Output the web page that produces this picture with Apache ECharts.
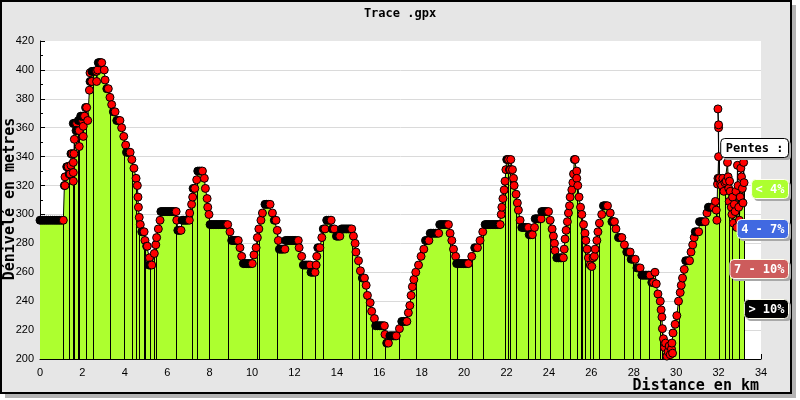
<!DOCTYPE html>
<html><head><meta charset="utf-8">
<script src="https://cdn.jsdelivr.net/npm/echarts@6/dist/echarts.min.js"></script>
<style>html,body{margin:0;padding:0;background:#fff}#c{width:800px;height:400px}</style>
</head><body><div id="c"></div>
<script>
const titleText = 'Trace .gpx';
const yAxisTitle = 'Dénivelé en metres';
const xAxisTitle = 'Distance en km';
const xMin = 0, xMax = 34, xStep = 2;
const yMin = 200, yMax = 420, yStep = 20;
const legendTitle = 'Pentes :';
const slopeLabels = ['< 4%', '4 - 7%', '7 - 10%', '> 10%'];
const slopeColors = ['#adff2f', '#4169e1', '#cd5c5c', '#000000'];

// [distance km, elevation m] in GPS trace order
const profilePoints = [
[0,296],[0.1,296],[0.2,296],[0.3,296],[0.4,296],[0.5,296],[0.6,296],[0.7,296],[0.8,296],[0.9,296],[1.0,296],[1.1,296],
[1.15,320],[1.18,320],[1.18,326],[1.26,333],[1.30,333],[1.33,333],[1.38,328],[1.42,328],[1.46,334],[1.46,342],[1.52,342],
[1.57,336],[1.57,329],[1.57,323],[1.60,342],[1.62,352],[1.57,363],[1.63,363],[1.68,363],[1.73,363],[1.70,358],[1.77,358],
[1.85,358],[1.85,347],[1.81,365],[1.88,365],[1.95,365],[2.01,365],[1.92,368],[2.0,368],[2.06,368],[2.12,368],[2.04,361],
[2.04,354],[2.10,368],[2.15,374],[2.20,374],[2.25,365],[2.33,386],[2.36,392],[2.40,392],[2.44,392],[2.36,398],[2.45,399],
[2.52,399],[2.60,399],[2.67,399],[2.67,392],[2.72,400],[2.75,405],[2.80,405],[2.86,405],[2.91,405],[3.03,400],[3.07,393],
[3.15,387],[3.22,387],[3.30,381],[3.38,376],[3.46,371],[3.54,371],[3.62,365],[3.70,365],[3.77,365],[3.85,360],[3.95,354],
[4.04,348],[4.08,343],[4.15,343],[4.20,343],[4.25,343],[4.33,338],[4.43,332],[4.53,325],[4.59,320],[4.62,312],[4.64,305],
[4.68,298],[4.73,293],[4.80,288],[4.85,288],[4.91,288],[4.95,282],[5.03,278],[5.06,278],[5.16,270],[5.14,265],[5.20,265],
[5.27,265],[5.39,273],[5.46,279],[5.50,284],[5.58,290],[5.66,296],[5.70,302],[5.78,302],[5.86,302],[5.94,302],[6.02,302],
[6.10,302],[6.18,302],[6.26,302],[6.34,302],[6.42,302],[6.45,296],[6.50,289],[6.58,289],[6.65,289],[6.70,296],[6.78,296],
[6.86,296],[6.94,296],[7.04,296],[7.06,301],[7.15,307],[7.20,312],[7.22,318],[7.30,318],[7.39,324],[7.44,330],[7.52,330],
[7.60,330],[7.66,330],[7.75,325],[7.80,318],[7.88,311],[7.91,305],[7.97,300],[8.02,293],[8.10,293],[8.18,293],[8.26,293],
[8.34,293],[8.42,293],[8.50,293],[8.58,293],[8.66,293],[8.74,293],[8.85,293],[8.96,288],[9.04,282],[9.12,282],[9.20,282],
[9.28,282],[9.35,282],[9.43,277],[9.51,271],[9.59,266],[9.67,266],[9.75,266],[9.83,266],[9.92,266],[10.01,266],[10.09,272],
[10.19,277],[10.25,284],[10.32,290],[10.42,296],[10.49,301],[10.61,307],[10.68,307],[10.76,307],[10.85,307],[10.96,301],
[11.05,296],[11.13,296],[11.19,289],[11.24,282],[11.29,276],[11.37,276],[11.45,276],[11.55,276],[11.58,282],[11.66,282],
[11.74,282],[11.82,282],[11.90,282],[11.98,282],[12.06,282],[12.18,282],[12.22,277],[12.34,271],[12.42,265],[12.50,265],
[12.58,265],[12.66,265],[12.74,265],[12.78,260],[12.87,260],[12.97,260],[13.02,265],[13.05,271],[13.10,277],[13.20,277],
[13.29,284],[13.36,290],[13.44,290],[13.52,296],[13.60,296],[13.68,296],[13.73,296],[13.78,290],[13.88,290],[13.98,285],
[14.06,285],[14.14,285],[14.22,290],[14.30,290],[14.38,290],[14.46,290],[14.54,290],[14.62,290],[14.70,290],[14.78,285],
[14.86,280],[14.90,274],[15.02,268],[15.11,261],[15.20,256],[15.30,256],[15.38,251],[15.44,244],[15.57,239],[15.64,233],
[15.77,228],[15.83,223],[15.92,223],[16.0,223],[16.08,223],[16.16,223],[16.24,223],[16.27,217],[16.35,211],[16.43,211],
[16.50,216],[16.58,216],[16.66,216],[16.74,216],[16.80,216],[16.95,221],[17.06,226],[17.14,226],[17.22,226],[17.30,226],
[17.37,232],[17.44,237],[17.50,244],[17.56,250],[17.63,255],[17.72,260],[17.85,265],[17.97,271],[18.10,276],[18.18,282],
[18.26,282],[18.34,282],[18.40,287],[18.48,287],[18.56,287],[18.64,287],[18.72,287],[18.80,287],[18.85,293],[18.95,293],
[19.05,293],[19.15,293],[19.26,293],[19.34,287],[19.42,282],[19.50,276],[19.60,271],[19.65,266],[19.73,266],[19.81,266],
[19.89,266],[19.97,266],[20.05,266],[20.13,266],[20.20,266],[20.36,271],[20.50,277],[20.63,277],[20.75,282],[20.88,288],
[20.99,293],[21.08,293],[21.16,293],[21.24,293],[21.32,293],[21.40,293],[21.48,293],[21.56,293],[21.64,293],[21.70,293],
[21.75,300],[21.78,305],[21.83,311],[21.89,317],[21.93,323],[21.97,331],[22.01,338],[22.06,338],[22.10,338],[22.14,331],
[22.18,331],[22.20,338],[22.28,331],[22.33,325],[22.36,320],[22.45,314],[22.51,308],[22.56,303],[22.64,296],[22.72,291],
[22.80,291],[22.88,291],[22.96,291],[23.03,291],[23.07,286],[23.14,286],[23.22,286],[23.32,291],[23.35,297],[23.42,297],
[23.50,297],[23.57,297],[23.63,297],[23.66,302],[23.74,302],[23.82,302],[23.90,302],[23.98,302],[24.06,296],[24.15,290],
[24.21,285],[24.26,280],[24.29,275],[24.37,270],[24.45,270],[24.53,270],[24.60,270],[24.68,270],[24.72,276],[24.76,283],
[24.81,289],[24.87,295],[24.92,301],[24.97,306],[25.00,312],[25.08,317],[25.13,322],[25.16,328],[25.20,338],[25.24,338],
[25.31,330],[25.31,325],[25.36,320],[25.42,312],[25.49,305],[25.55,300],[25.63,293],[25.70,287],[25.74,282],[25.80,276],
[25.86,270],[25.95,265],[26.02,264],[26.08,270],[26.14,271],[26.18,276],[26.26,282],[26.31,288],[26.38,294],[26.49,300],
[26.57,306],[26.63,306],[26.70,306],[26.76,306],[26.89,301],[26.97,295],[27.03,295],[27.09,295],[27.16,290],[27.28,284],
[27.36,284],[27.44,284],[27.56,279],[27.67,274],[27.75,274],[27.83,274],[27.88,269],[27.96,269],[28.07,269],[28.15,263],
[28.22,263],[28.30,263],[28.38,258],[28.46,258],[28.54,258],[28.62,258],[28.70,258],[28.77,258],[28.85,253],[28.93,253],
[29.00,260],[29.06,252],[29.14,245],[29.25,240],[29.29,234],[29.33,229],[29.35,221],[29.40,214],[29.45,208],[29.50,211],
[29.56,202],[29.62,205],[29.67,209],[29.72,203],[29.78,207],[29.83,204],[29.80,211],[29.85,218],[29.95,224],[30.03,230],
[30.11,240],[30.19,246],[30.24,251],[30.30,256],[30.38,262],[30.45,268],[30.55,268],[30.63,268],[30.70,274],[30.78,279],
[30.85,284],[30.90,288],[30.98,288],[31.06,288],[31.10,295],[31.18,295],[31.26,295],[31.37,295],[31.45,301],[31.52,305],
[31.60,305],[31.68,305],[31.76,305],[31.85,309],[31.89,303],[31.92,296],[31.95,321],[31.97,325],[32.00,340],[32.00,360],
[32.00,362],[31.97,373],[32.02,325],[32.05,325],[32.10,321],[32.15,320],[32.20,325],[32.25,316],[32.30,322],[32.36,323],
[32.42,336],[32.45,326],[32.48,318],[32.50,309],[32.52,323],[32.55,316],[32.60,305],[32.63,300],[32.66,312],[32.70,294],
[32.74,307],[32.78,302],[32.82,316],[32.86,291],[32.89,334],[32.92,320],[32.95,305],[32.98,296],[33.02,312],[33.05,332],
[33.08,326],[33.12,318],[33.15,308],[33.18,336],[33.20,322]
];

// distances (km) where a vertical separator drops from the profile to the axis
const dropLineKm = [1.1,1.38,1.57,1.62,1.78,1.85,2.15,2.5,2.55,3.3,3.96,4.33,4.53,4.68,4.91,4.99,5.19,5.38,5.46,6.42,7.11,7.36,
7.94,8.88,10.22,10.3,11.2,12.34,12.97,13.33,14.7,15.01,15.41,15.69,16.3,16.95,17.74,19.31,19.68,20.36,20.88,21.93,22.04,22.17,
22.41,23.03,23.35,23.58,24.1,24.68,25.03,25.31,25.47,25.55,25.71,25.91,26.1,26.38,26.89,27.51,27.99,28.33,28.69,29.25,29.35,
30.11,31.32,32.0,32.31,32.47,32.63,32.94,33.2];

function nearestPoint(km){
  let best = profilePoints[0], bd = Infinity;
  for (const p of profilePoints){ const d = Math.abs(p[0]-km); if (d < bd){ bd = d; best = p; } }
  return best;
}
const dropData = dropLineKm.map(nearestPoint);

const markerData = profilePoints.map((p, i) => {
  const n = profilePoints[i+1];
  const flatRun = n && n[1] === p[1];
  return flatRun ? {value: p, itemStyle: {color: '#000'}} : {value: p};
});

const mono = '"DejaVu Sans Mono", monospace';
const measure = (() => { const c = document.createElement('canvas').getContext('2d'); c.font = 'bold 12px ' + mono; return t => c.measureText(t).width; })();

const graphics = [
  {type:'rect', z:-100, shape:{x:5, y:5, width:791, height:393}, style:{fill:'#b4b4b4'}},
  {type:'rect', z:-99, shape:{x:1, y:1, width:790, height:392}, style:{fill:'#e6e6e6', stroke:'#000', lineWidth:2}},
  {type:'text', z:100, x:400, y:14, style:{text:titleText, font:'bold 12px ' + mono, fill:'#000', align:'center', verticalAlign:'middle'}},
  {type:'text', z:100, x:10, y:199, rotation:Math.PI/2, style:{text:yAxisTitle, font:'bold 15px ' + mono, fill:'#000', align:'center', verticalAlign:'middle'}},
  {type:'text', z:100, x:759, y:386, style:{text:xAxisTitle, font:'bold 15px ' + mono, fill:'#000', align:'right', verticalAlign:'middle'}}
];
// legend: title box and slope classes
(function(){
  const w = measure(legendTitle) + 10, right = 788, top = 138, h = 19;
  graphics.push({type:'rect', z:100, shape:{x:right-w+3, y:top+3, width:w, height:h, r:4}, style:{fill:'#a8a8a8'}});
  graphics.push({type:'rect', z:101, shape:{x:right-w+0.5, y:top+0.5, width:w, height:h, r:4}, style:{fill:'#fff', stroke:'#000', lineWidth:1}});
  graphics.push({type:'text', z:102, x:right-w/2+0.5, y:top+h/2+1, style:{text:legendTitle, font:'bold 12px ' + mono, fill:'#000', align:'center', verticalAlign:'middle'}});
  slopeLabels.forEach((lab, i) => {
    const bw = measure(lab) + 8, bt = 179 + 40*i;
    graphics.push({type:'rect', z:100, shape:{x:right-bw+3, y:bt+3, width:bw, height:h, r:4}, style:{fill:'#a8a8a8'}});
    graphics.push({type:'rect', z:101, shape:{x:right-bw+0.5, y:bt+0.5, width:bw, height:h, r:4}, style:{fill:slopeColors[i], stroke:'#fffff0', lineWidth:1}});
    graphics.push({type:'text', z:102, x:right-bw/2+0.5, y:bt+h/2+1, style:{text:lab, font:'bold 12px ' + mono, fill:'#fff', align:'center', verticalAlign:'middle'}});
  });
})();

const axisCommon = {
  axisLine:{show:true, onZero:false, lineStyle:{color:'#000', width:1}},
  axisTick:{show:true, inside:true, length:5, lineStyle:{color:'#000'}},
  minorTick:{show:true, splitNumber:2, length:3, lineStyle:{color:'#000'}},
  axisLabel:{color:'#000', fontSize:11, fontFamily:'"Liberation Sans", Arial, sans-serif'}
};
const gridColors = [];
for (let v = yMin; v <= yMax; v += yStep) gridColors.push(v === yMax ? 'rgba(0,0,0,0)' : '#dadada');

const chart = echarts.init(document.getElementById('c'), null, {renderer:'canvas'});
chart.setOption({
  animation:false,
  backgroundColor:'#fff',
  grid:{left:40, right:39, top:41, bottom:41, show:true, backgroundColor:'#fff', borderWidth:0, z:0},
  xAxis:Object.assign({type:'value', min:xMin, max:xMax, interval:xStep, splitLine:{show:false}}, axisCommon,
    {axisLabel:Object.assign({}, axisCommon.axisLabel, {margin:8})}),
  yAxis:Object.assign({type:'value', min:yMin, max:yMax, interval:yStep, splitLine:{show:true, lineStyle:{color:gridColors}}}, axisCommon,
    {axisLabel:Object.assign({}, axisCommon.axisLabel, {margin:6})}),
  graphic:{elements:graphics},
  series:[
    {type:'line', data:profilePoints, symbol:'none', silent:true, z:1,
      lineStyle:{width:0, opacity:0}, areaStyle:{color:'#adff2f', opacity:1, origin:'start'}},
    {type:'custom', data:dropData, silent:true, z:2,
      renderItem:function(params, api){
        const top = api.coord([api.value(0), api.value(1)]);
        const bot = api.coord([api.value(0), yMin]);
        const x = Math.round(top[0]) + 0.5;
        return {type:'line', shape:{x1:x, y1:bot[1], x2:x, y2:top[1]}, style:{stroke:'#000', lineWidth:1}};
      }},
    {type:'line', data:markerData, silent:true, z:3, showSymbol:true, showAllSymbol:true,
      symbol:'circle', symbolSize:8,
      lineStyle:{color:'#000', width:1},
      itemStyle:{color:'#ff0000', borderColor:'#000', borderWidth:1}}
  ]
});
</script></body></html>
